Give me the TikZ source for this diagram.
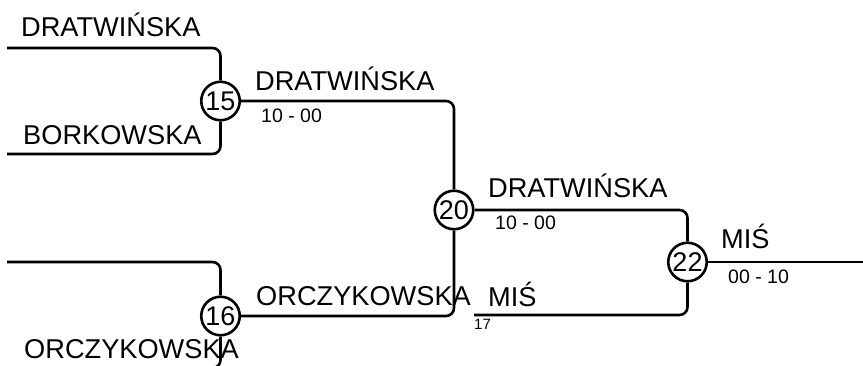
\documentclass[tikz,border=0pt]{standalone}
\usepackage{fontspec}
\setmainfont{Liberation Sans}
\begin{document}
\begin{tikzpicture}[x=1pt,y=-1pt,
  wire/.style={line width=2.6pt, rounded corners=8pt},
  junc/.style={circle, draw, line width=2.6pt, fill=white, minimum size=38.5pt, inner sep=0pt, font=\fontsize{27}{27}\selectfont},
  big/.style={anchor=base west, inner sep=0pt, font=\fontsize{27.2}{28}\selectfont},
  small/.style={anchor=base west, inner sep=0pt, font=\fontsize{19.5}{20}\selectfont},
  tiny/.style={anchor=base west, inner sep=0pt, font=\fontsize{15}{15}\selectfont}]
\useasboundingbox (0,0) rectangle (863,365);
\clip (0,0) rectangle (863,365);
% junctions
\node[junc] (n15) at (220.5,101) {15};
\node[junc] (n16) at (220.5,316) {16};
\node[junc] (n20) at (454,210) {20};
\node[junc] (n22) at (687.5,262) {22};
% free ends
\coordinate (c1) at (7,48);
\coordinate (c2) at (7,154);
\coordinate (c3) at (7,262);
\coordinate (c4) at (0,368);
\coordinate (c5) at (474,315);
\coordinate (c6) at (870,262);
% connectors
\draw[wire] (c1) -| (n15.north);
\draw[wire] (c2) -| (n15.south);
\draw[wire] (c3) -| (n16.north);
\draw[wire] (n16.south) |- (c4);
\draw[wire] (n15.east) -| (n20.north);
\draw[wire] (n16.east) -| (n20.south);
\draw[wire] (n20.east) -| (n22.north);
\draw[wire] (c5) -| (n22.south);
\draw[wire] (n22.east) -- (c6);
% labels
\node[big] (t1) at (21,36.5) {DRATWIŃSKA};
\node[big] (t2) at (23,144) {BORKOWSKA};
\node[big] (t3) at (255,90) {DRATWIŃSKA};
\node[small] (s1) at (261,122) {10 - 00};
\node[big] (t4) at (256,305) {ORCZYKOWSKA};
\node[big] (t5) at (24,358) {ORCZYKOWSKA};
\node[big] (t6) at (488,197) {DRATWIŃSKA};
\node[small] (s2) at (495,229) {10 - 00};
\node[big] (t7) at (488,306) {MIŚ};
\node[tiny] (s3) at (474,329) {17};
\node[big] (t8) at (721,248) {MIŚ};
\node[small] (s4) at (728,283) {00 - 10};
\end{tikzpicture}
\end{document}
